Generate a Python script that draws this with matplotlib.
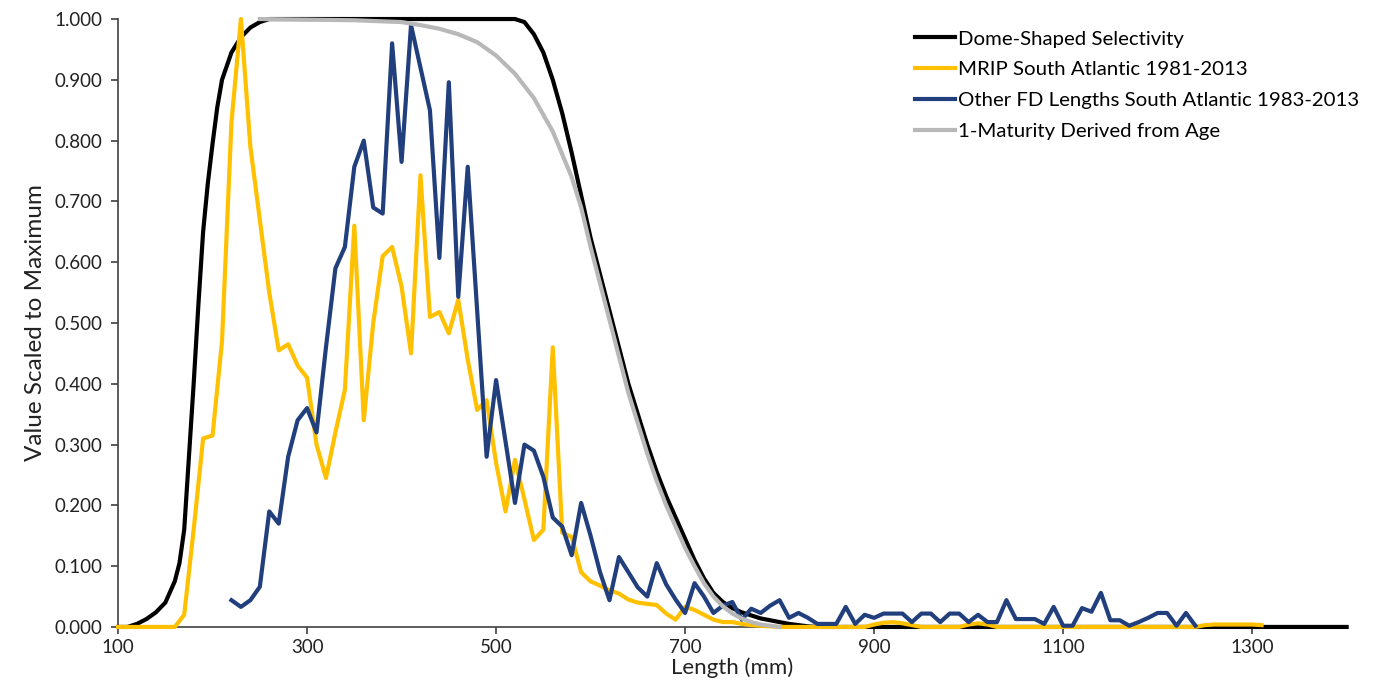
import matplotlib
matplotlib.use("Agg")
import matplotlib.pyplot as plt
from matplotlib.ticker import FormatStrFormatter

# dome-shaped selectivity
dome_len = [100, 110, 120, 130, 140, 150, 160, 165, 170, 175, 180, 185, 190, 195, 200, 205, 210,
            220, 230, 240, 250, 260,
            520, 530, 540, 550, 560, 570, 580, 590, 600, 610, 620, 630, 640, 650, 660, 670, 680,
            690, 700, 710, 720, 730, 740, 750, 760, 770, 780, 790, 800, 810, 820, 830, 840, 1400]
dome_val = [0.0, 0.0, 0.005, 0.013, 0.024, 0.04, 0.075, 0.105, 0.16, 0.28, 0.40, 0.53, 0.65, 0.73,
            0.795, 0.855, 0.90, 0.945, 0.97, 0.986, 0.995, 1.0,
            1.0, 0.995, 0.975, 0.945, 0.90, 0.845, 0.78, 0.71, 0.64, 0.58, 0.52, 0.46, 0.40, 0.35,
            0.30, 0.255, 0.215, 0.18, 0.145, 0.11, 0.08, 0.056, 0.041, 0.031, 0.024, 0.019, 0.014,
            0.011, 0.008, 0.005, 0.003, 0.001, 0.0, 0.0]

# MRIP South Atlantic 1981-2013
mrip_len = [100, 160, 170, 180, 190, 200, 210, 220, 230, 240, 250, 260, 270, 280, 290, 300, 310,
            320, 330, 340, 350, 360, 370, 380, 390, 400, 410, 420, 430, 440, 450, 460, 470, 480,
            490, 500, 510, 520, 530, 540, 550, 560, 570, 580, 590, 600, 610, 620, 630, 640, 650,
            660, 670, 680, 690, 700, 710, 720, 730, 740, 750, 760, 770, 780, 790, 800, 890, 900,
            910, 920, 930, 940, 950, 990, 1000, 1010, 1020, 1030, 1240, 1250, 1260, 1300, 1310]
mrip_val = [0.0, 0.0, 0.02, 0.16, 0.31, 0.315, 0.47, 0.83, 1.0, 0.79, 0.67, 0.55, 0.455, 0.465,
            0.43, 0.41, 0.30, 0.245, 0.32, 0.39, 0.66, 0.34, 0.50, 0.61, 0.625, 0.56, 0.45, 0.743,
            0.51, 0.518, 0.483, 0.538, 0.44, 0.357, 0.373, 0.27, 0.19, 0.275, 0.21, 0.143, 0.16,
            0.46, 0.155, 0.148, 0.09, 0.075, 0.068, 0.06, 0.055, 0.045, 0.04, 0.038, 0.036, 0.022,
            0.012, 0.033, 0.028, 0.02, 0.012, 0.008, 0.008, 0.005, 0.003, 0.002, 0.001, 0.0, 0.0,
            0.004, 0.007, 0.008, 0.006, 0.003, 0.0, 0.0, 0.004, 0.006, 0.004, 0.0, 0.0, 0.003,
            0.004, 0.004, 0.003]

# Other FD lengths South Atlantic 1983-2013
fd_len = [220, 230, 240, 250, 260, 270, 280, 290, 300, 310, 320, 330, 340, 350, 360, 370, 380,
          390, 400, 410, 420, 430, 440, 450, 460, 470, 480, 490, 500, 510, 520, 530, 540, 550, 560,
          570, 580, 590, 600, 610, 620, 630, 640, 650, 660, 670, 680, 690, 700, 710, 720, 730, 740,
          750, 760, 770, 780, 790, 800, 810, 820, 830, 840, 850, 860, 870, 880, 890, 900, 910, 920,
          930, 940, 950, 960, 970, 980, 990, 1000, 1010, 1020, 1030, 1040, 1050, 1060, 1070, 1080,
          1090, 1100, 1110, 1120, 1130, 1140, 1150, 1160, 1170, 1180, 1190, 1200, 1210, 1220, 1230,
          1240]
fd_val = [0.044, 0.033, 0.044, 0.066, 0.19, 0.17, 0.28, 0.34, 0.36, 0.32, 0.46, 0.59, 0.625, 0.757,
          0.80, 0.69, 0.68, 0.96, 0.765, 0.99, 0.92, 0.85, 0.607, 0.896, 0.543, 0.757, 0.52, 0.28,
          0.406, 0.305, 0.204, 0.30, 0.29, 0.247, 0.18, 0.165, 0.118, 0.204, 0.15, 0.09, 0.044,
          0.115, 0.09, 0.065, 0.05, 0.105, 0.07, 0.045, 0.023, 0.072, 0.05, 0.023, 0.035, 0.041,
          0.012, 0.03, 0.023, 0.035, 0.044, 0.015, 0.023, 0.015, 0.005, 0.005, 0.005, 0.033, 0.005,
          0.02, 0.015, 0.022, 0.022, 0.022, 0.008, 0.022, 0.022, 0.008, 0.022, 0.022, 0.008, 0.02,
          0.008, 0.008, 0.044, 0.013, 0.013, 0.013, 0.005, 0.033, 0.002, 0.002, 0.031, 0.025,
          0.056, 0.011, 0.011, 0.002, 0.008, 0.015, 0.023, 0.023, 0.002, 0.023, 0.002]

# 1-Maturity derived from age
mat_len = [250, 300, 350, 400, 420, 440, 460, 480, 500, 520, 540, 560, 580, 590, 600, 610, 620,
           630, 640, 650, 660, 670, 680, 690, 700, 710, 720, 730, 740, 750, 760, 770, 780, 790, 800]
mat_val = [1.0, 0.999, 0.998, 0.995, 0.99, 0.984, 0.975, 0.962, 0.94, 0.91, 0.87, 0.815, 0.74,
           0.69, 0.625, 0.565, 0.505, 0.445, 0.385, 0.335, 0.285, 0.24, 0.20, 0.165, 0.13, 0.10,
           0.072, 0.05, 0.034, 0.022, 0.014, 0.008, 0.004, 0.002, 0.0]

plt.rcParams['font.family'] = ['Lato', 'DejaVu Sans']

fig = plt.figure(figsize=(13.84, 6.92), dpi=100)
ax = fig.add_axes([0.0853, 0.094, 0.8877, 0.8785])

lw = 3.0
ax.plot(dome_len, dome_val, color='black', lw=lw, label='Dome-Shaped Selectivity',
        clip_on=False, zorder=3)
ax.plot(mrip_len, mrip_val, color='#FFC000', lw=lw, label='MRIP South Atlantic 1981-2013',
        clip_on=False, zorder=4)
ax.plot(fd_len, fd_val, color='#213F7C', lw=lw, label='Other FD Lengths South Atlantic 1983-2013',
        clip_on=False, zorder=5)
ax.plot(mat_len, mat_val, color='#B8B8B8', lw=lw, label='1-Maturity Derived from Age',
        clip_on=False, zorder=6)

ax.set_xlim(100, 1400)
ax.set_ylim(0, 1.0)
ax.set_xticks([100, 300, 500, 700, 900, 1100, 1300])
ax.set_yticks([0, 0.1, 0.2, 0.3, 0.4, 0.5, 0.6, 0.7, 0.8, 0.9, 1.0])
ax.yaxis.set_major_formatter(FormatStrFormatter('%.3f'))

for s in ['top', 'right']:
    ax.spines[s].set_visible(False)
for s in ['left', 'bottom']:
    ax.spines[s].set_color('#404040')
    ax.spines[s].set_linewidth(1.2)
ax.tick_params(axis='both', colors='#404040', labelcolor='#222222', labelsize=13.5,
               length=5, width=1.2)
ax.tick_params(axis='y', pad=6)
ax.tick_params(axis='x', pad=4)

ax.set_xlabel('Length (mm)', fontsize=16, color='#222222', labelpad=1)
ax.set_ylabel('Value Scaled to Maximum', fontsize=17.5, color='#222222', labelpad=6)

ax.legend(loc='upper left', bbox_to_anchor=(0.642, 0.995), frameon=False, fontsize=14.7,
          handlelength=1.95, handletextpad=0.15, labelspacing=0.66, borderaxespad=0)

fig.savefig('out.png', dpi=100, facecolor='white')
